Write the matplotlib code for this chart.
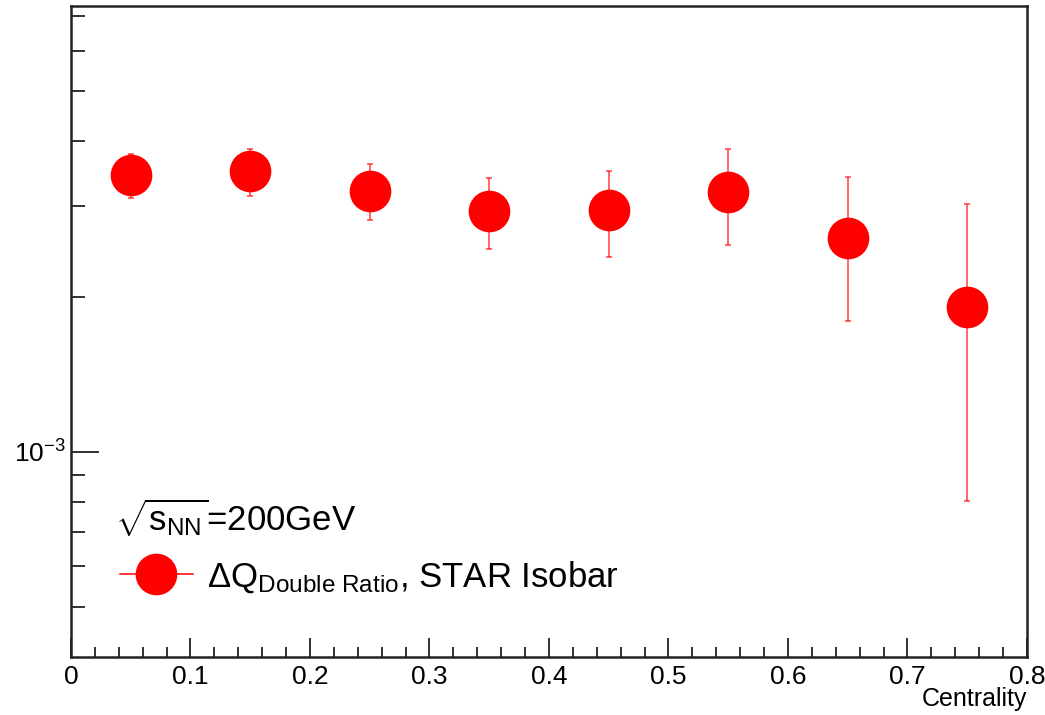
import matplotlib
matplotlib.use("Agg")
import matplotlib.pyplot as plt
from matplotlib import font_manager
from matplotlib.lines import Line2D
from matplotlib.ticker import FixedLocator, MultipleLocator, NullFormatter, FixedFormatter

# centrality bins and double ratio values
centrality = [0.05, 0.15, 0.25, 0.35, 0.45, 0.55, 0.65, 0.75]
dq_ratio = [3.44e-3, 3.50e-3, 3.21e-3, 2.935e-3, 2.95e-3, 3.19e-3, 2.60e-3, 1.913e-3]
dq_err = [0.34e-3, 0.37e-3, 0.40e-3, 0.46e-3, 0.56e-3, 0.67e-3, 0.81e-3, 1.11e-3]

x_ticks = [0, 0.1, 0.2, 0.3, 0.4, 0.5, 0.6, 0.7, 0.8]
x_labels = ["0", "0.1", "0.2", "0.3", "0.4", "0.5", "0.6", "0.7", "0.8"]

# narrow font looks closer to the squeezed ROOT text
font = "Liberation Sans"
try:
    font_manager.findfont("Liberation Sans Narrow", fallback_to_default=False)
    font = "Liberation Sans Narrow"
except ValueError:
    pass

plt.rcParams["font.family"] = [font, "DejaVu Sans"]
plt.rcParams["mathtext.fontset"] = "custom"
plt.rcParams["mathtext.rm"] = font
plt.rcParams["mathtext.it"] = font
plt.rcParams["mathtext.bf"] = font

fig = plt.figure(figsize=(10.45, 7.15), dpi=100)
ax = fig.add_axes([0.0679, 0.0811, 0.9148, 0.9109])

ax.errorbar(centrality, dq_ratio, yerr=dq_err, fmt="none", ecolor="red",
            elinewidth=1.1, capsize=2.5, capthick=1.1, alpha=0.75, zorder=2)
ax.plot(centrality, dq_ratio, "o", color="red", markersize=30,
        markeredgewidth=0, zorder=3)

ax.set_yscale("log")
ax.set_xlim(0, 0.8)
ax.set_ylim(4.0e-4, 7.33e-3)

# axis ticks, ROOT style
ax.xaxis.set_major_locator(FixedLocator(x_ticks))
ax.xaxis.set_major_formatter(FixedFormatter(x_labels))
ax.xaxis.set_minor_locator(MultipleLocator(0.02))
ax.yaxis.set_major_locator(FixedLocator([1e-3]))
ax.yaxis.set_major_formatter(FixedFormatter([r"$10^{-3}$"]))
ax.yaxis.set_minor_locator(FixedLocator([5e-4, 6e-4, 7e-4, 8e-4, 9e-4,
                                         2e-3, 3e-3, 4e-3, 5e-3, 6e-3, 7e-3]))
ax.yaxis.set_minor_formatter(NullFormatter())

ax.tick_params(axis="x", which="major", direction="in", length=14, width=1.3,
               colors="#222222", labelsize=19, pad=6, labelcolor="black")
ax.tick_params(axis="x", which="minor", direction="in", length=7, width=1.3,
               colors="#222222")
ax.tick_params(axis="y", which="major", direction="in", length=20.5, width=1.3,
               colors="#222222", labelsize=19, pad=4, labelcolor="black")
ax.tick_params(axis="y", which="minor", direction="in", length=10, width=1.3,
               colors="#222222")
for side in ax.spines.values():
    side.set_linewidth(1.8)
    side.set_color("#222222")

# x title sits at the lower right corner, below the tick labels
ax.text(1.0, -0.075, "Centrality", transform=ax.transAxes, fontsize=18,
        ha="right", va="baseline")

# legend block
ax.text(0.046, 0.2134, r"$\sqrt{s_{\rm NN}}$=200GeV", transform=ax.transAxes,
        fontsize=25, ha="left", va="center")
handle = Line2D([], [], color="red", linewidth=1.1, marker="o",
                markersize=30, markeredgewidth=0)
ax.legend([handle], [r"$\Delta$Q$_{\rm Double\ Ratio}$, STAR Isobar"],
          loc="center left", bbox_to_anchor=(0.0513, 0.1233), frameon=False,
          fontsize=25, handlelength=2.1, handletextpad=0.42,
          borderpad=0, borderaxespad=0)

fig.savefig("out.png", dpi=100)
